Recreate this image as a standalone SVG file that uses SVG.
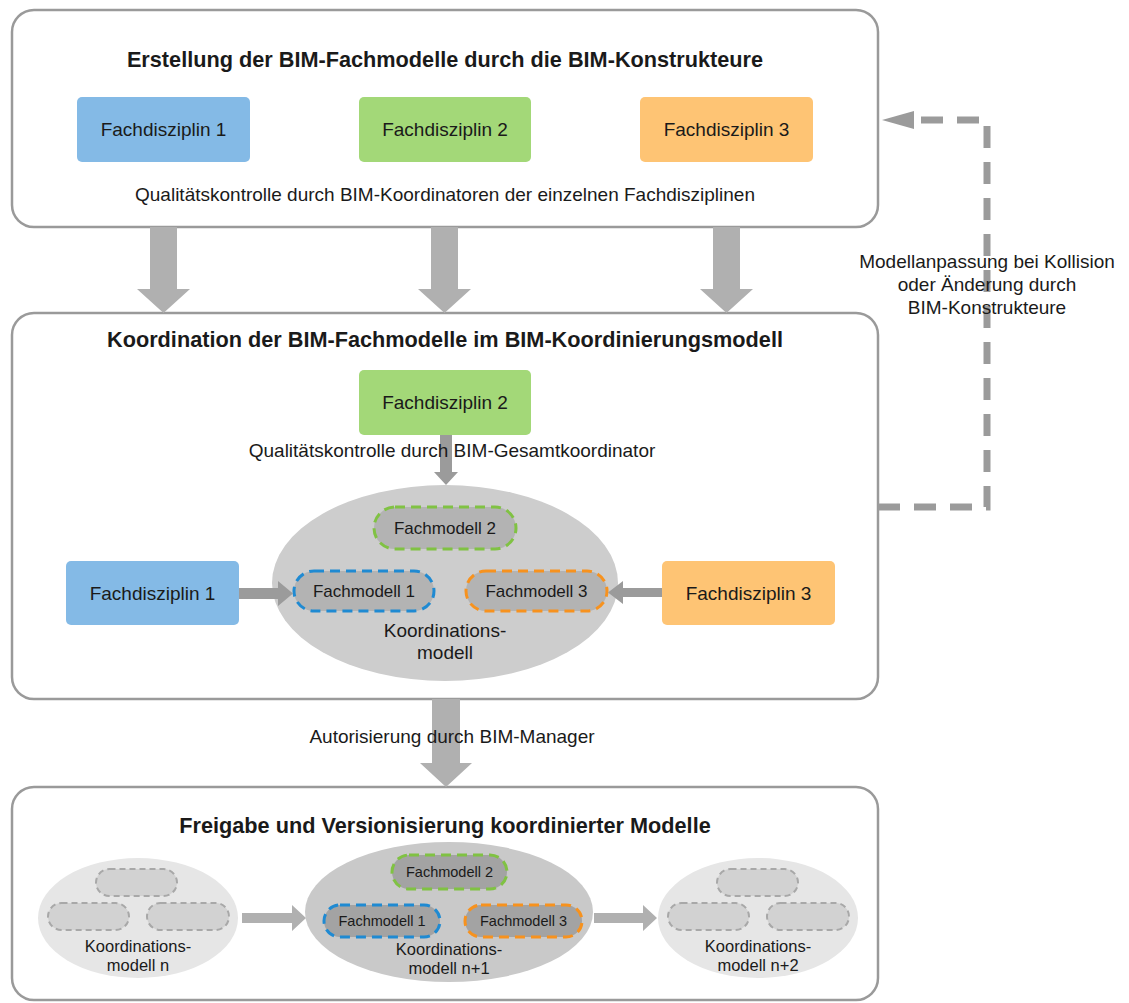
<svg xmlns="http://www.w3.org/2000/svg" width="1129" height="1003" viewBox="0 0 1129 1003">
<style>
text{font-family:"Liberation Sans",Arial,sans-serif;fill:#1a1a1a;text-anchor:middle}
.title{font-size:21.7px;font-weight:bold}
.t19{font-size:19px}
.t17{font-size:17px}
.t15{font-size:16.5px}
.t14{font-size:14.5px}
.cont{fill:#fff;stroke:#9a9a9a;stroke-width:2.5}
.box{stroke:none}
.blue{fill:#84bae6}
.green{fill:#a3d878}
.orange{fill:#fec474}
.big{fill:#b0b0b0}
.small{fill:#9b9b9b}
.pill{stroke-width:3;stroke-dasharray:10 6}
.pillB{fill:#b3b3b3}
.pillC{fill:#a3a3a3}
.pillE{fill:#d2d2d2;stroke:#a8a8a8;stroke-width:2;stroke-dasharray:6 4}
.sb{stroke:#1f8ad2}
.sg{stroke:#80c243}
.so{stroke:#f7921e}
</style>

<g id="stage1">
<rect class="cont" x="12" y="10" width="866" height="217" rx="22"/>
<text class="title" x="445" y="67">Erstellung der BIM-Fachmodelle durch die BIM-Konstrukteure</text>
<text class="t19" x="445" y="201">Qualitätskontrolle durch BIM-Koordinatoren der einzelnen Fachdisziplinen</text>
</g>
<g id="fd1-top"><rect class="box blue" x="77" y="97" width="173" height="65" rx="5"/><text class="t19" x="163.5" y="136">Fachdisziplin 1</text></g>
<g id="fd2-top"><rect class="box green" x="359" y="97" width="172" height="65" rx="5"/><text class="t19" x="445" y="136">Fachdisziplin 2</text></g>
<g id="fd3-top"><rect class="box orange" x="640" y="97" width="173" height="65" rx="5"/><text class="t19" x="726.5" y="136">Fachdisziplin 3</text></g>

<g id="stage2">
<rect class="cont" x="12" y="313" width="866" height="386" rx="22"/>
<text class="title" x="445" y="347">Koordination der BIM-Fachmodelle im BIM-Koordinierungsmodell</text>
</g>
<g id="fd2-mid"><rect class="box green" x="359" y="370" width="172" height="65" rx="5"/><text class="t19" x="445" y="409">Fachdisziplin 2</text></g>
<g id="fd1-mid"><rect class="box blue" x="66" y="561" width="173" height="64" rx="5"/><text class="t19" x="152.5" y="600">Fachdisziplin 1</text></g>
<g id="fd3-mid"><rect class="box orange" x="662" y="561" width="173" height="64" rx="5"/><text class="t19" x="748.5" y="600">Fachdisziplin 3</text></g>
<g id="koord-model">
<ellipse cx="445" cy="583" rx="173" ry="98" fill="#cdcdcd"/>
<rect class="pill pillB sg" x="374" y="507" width="142" height="42" rx="21"/>
<text class="t17" x="445" y="534">Fachmodell 2</text>
<rect class="pill pillB sb" x="294" y="571" width="140" height="40" rx="20"/>
<text class="t17" x="364" y="597">Fachmodell 1</text>
<rect class="pill pillB so" x="466" y="571" width="141" height="40" rx="20"/>
<text class="t17" x="536.5" y="597">Fachmodell 3</text>
<text class="t19" x="445" y="637">Koordinations-</text>
<text class="t19" x="445" y="659">modell</text>
</g>

<g id="stage3">
<rect class="cont" x="12" y="787" width="866" height="213" rx="22"/>
<text class="title" x="445" y="833">Freigabe und Versionisierung koordinierter Modelle</text>
</g>
<g id="model-n">
<ellipse cx="138" cy="918" rx="100" ry="60" fill="#e6e6e6"/>
<rect class="pillE" x="96" y="869" width="81" height="27" rx="13.5"/>
<rect class="pillE" x="48" y="903" width="81" height="27" rx="13.5"/>
<rect class="pillE" x="147" y="903" width="82" height="27" rx="13.5"/>
<text class="t15" x="138" y="952">Koordinations-</text>
<text class="t15" x="138" y="971">modell n</text>
</g>
<g id="model-n1">
<ellipse cx="449" cy="912" rx="144" ry="70" fill="#c9c9c9"/>
<rect class="pill pillC sg" x="392" y="855" width="115" height="34" rx="17"/>
<text class="t14" x="449.5" y="877">Fachmodell 2</text>
<rect class="pill pillC sb" x="324" y="905" width="116" height="32" rx="16"/>
<text class="t14" x="382" y="926">Fachmodell 1</text>
<rect class="pill pillC so" x="465" y="905" width="117" height="32" rx="16"/>
<text class="t14" x="523.5" y="926">Fachmodell 3</text>
<text class="t15" x="449" y="955">Koordinations-</text>
<text class="t15" x="449" y="974">modell n+1</text>
</g>
<g id="model-n2">
<ellipse cx="758" cy="918" rx="100" ry="60" fill="#e6e6e6"/>
<rect class="pillE" x="717" y="869" width="81" height="27" rx="13.5"/>
<rect class="pillE" x="668" y="903" width="81" height="27" rx="13.5"/>
<rect class="pillE" x="767" y="903" width="82" height="27" rx="13.5"/>
<text class="t15" x="758" y="952">Koordinations-</text>
<text class="t15" x="758" y="971">modell n+2</text>
</g>

<g id="connectors">
<polygon class="big" points="150,227 177,227 177,289 190,289 163.5,313 137,289 150,289"/>
<polygon class="big" points="431,227 458,227 458,289 471,289 444.5,313 418,289 431,289"/>
<polygon class="big" points="713,227 740,227 740,289 753,289 726.5,313 700,289 713,289"/>
<polygon class="small" points="440,435 452,435 452,472 458,472 446,485 434,472 440,472"/>
<polygon class="small" points="239,588 278,588 278,581 293,593.5 278,606 278,599 239,599"/>
<polygon class="small" points="662,588 623,588 623,581 608,592.5 623,604 623,597 662,597"/>
<polygon class="big" points="432,699 460,699 460,763 472,763 446,787 420,763 432,763"/>
<polygon class="big" points="242,913 292,913 292,905 306,918 292,931 292,923 242,923"/>
<polygon class="big" points="594,913 643,913 643,905 657,918 643,931 643,923 594,923"/>
<path d="M878 507 H987 V120 H912" fill="none" stroke="#9b9b9b" stroke-width="7" stroke-dasharray="22 14"/>
<polygon points="882,120 914,111 914,129" fill="#9b9b9b"/>
</g>
<g id="labels">
<text class="t19" x="452" y="457">Qualitätskontrolle durch BIM-Gesamtkoordinator</text>
<text class="t19" x="452" y="743">Autorisierung durch BIM-Manager</text>
<text class="t19" x="987" y="268">Modellanpassung bei Kollision</text>
<text class="t19" x="987" y="291">oder Änderung durch</text>
<text class="t19" x="987" y="314">BIM-Konstrukteure</text>
</g>
</svg>
